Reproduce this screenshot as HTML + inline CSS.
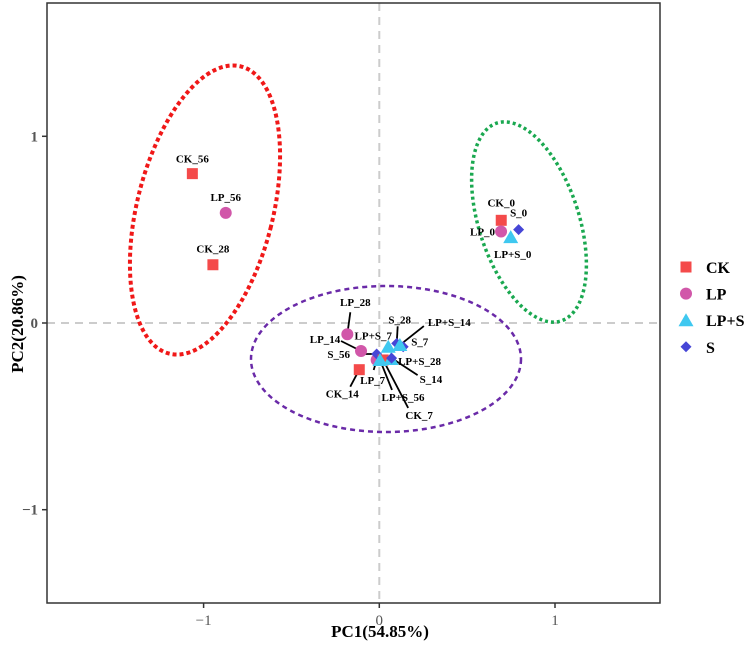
<!DOCTYPE html>
<html><head><meta charset="utf-8"><style>
body{margin:0;background:#fff}
svg{display:block;font-family:"Liberation Serif",serif}
</style></head><body>
<svg id="chart" width="749" height="647"></svg>
<script>
const names=["CK_0","LP_0","S_0","LP+S_0","CK_56","LP_56","CK_28","LP_28","LP_14","CK_14","LP_7","S_56","CK_7","LP+S_56","LP+S_28","LP+S_7","S_28","S_7","LP+S_14","S_14"];
const groups=["CK","LP","S","LP+S","CK","LP","CK","LP","LP","CK","LP","S","CK","LP+S","LP+S","LP+S","S","S","LP+S","S"];
const pc1=[0.694,0.693,0.793,0.748,-1.064,-0.874,-0.947,-0.182,-0.104,-0.114,-0.015,-0.015,0.022,0.004,0.067,0.051,0.099,0.136,0.117,0.07];
const pc2=[0.55,0.49,0.50,0.46,0.80,0.59,0.312,-0.06,-0.15,-0.25,-0.198,-0.166,-0.198,-0.198,-0.193,-0.127,-0.109,-0.127,-0.118,-0.188];
const xTicks=[-1,0,1];
const yTicks=[-1,0,1];
const legendItems=["CK","LP","LP+S","S"];
const lab={"CK_0":[0,-14,"middle"],"LP_0":[-6,4,"end"],"S_0":[0,-13,"middle"],"LP+S_0":[2,21,"middle"],
"CK_56":[0,-11,"middle"],"LP_56":[0,-12,"middle"],"CK_28":[0,-12,"middle"],
"LP_28":[8,-28,"middle",3,-22],"LP_14":[-36,-8,"middle",-20,-10],"S_56":[-38,4,"middle",-20,0],
"LP+S_7":[-15,-7,"middle"],"S_28":[3,-20,"middle",1,-17],"LP+S_14":[28,-19,"start",24,-19],
"S_7":[8,-1,"start"],"LP+S_28":[7,6,"start"],"S_14":[28,25,"start",26,17],
"CK_14":[-17,28,"middle",-9,17],"LP_7":[-4,24,"middle",-3,10],"LP+S_56":[23,41,"middle",12,30],"CK_7":[36,59,"middle",25,48]};
const colors={"CK":"#f44a4a","LP":"#d157a9","LP+S":"#3fc8f0","S":"#4646d6"};
const NS="http://www.w3.org/2000/svg";
const svg=document.getElementById('chart');
const L=47,R=660,T=3,B=603;
const X=v=>379.3+v*175.7, Y=v=>323-v*186.7;
function el(t,a,p){const e=document.createElementNS(NS,t);for(const k in a)e.setAttribute(k,a[k]);(p||svg).appendChild(e);return e;}
let z1=el('line',{x1:L,x2:R,y1:Y(0),y2:Y(0),stroke:'#ccc','stroke-width':2,'stroke-dasharray':'8,6'});


let z2=el('line',{x1:X(0),x2:X(0),y1:T,y2:B,stroke:'#ccc','stroke-width':2,'stroke-dasharray':'8,6'});


let e1=el('ellipse',{cx:205,cy:210,rx:68,ry:148,transform:'rotate(14 205 210)',fill:'none',stroke:'#f01818','stroke-width':4,'stroke-dasharray':'4,3'});


let e2=el('ellipse',{cx:529,cy:222,rx:50,ry:104,transform:'rotate(-18 529 222)',fill:'none',stroke:'#1aa850','stroke-width':3.5,'stroke-dasharray':'3,3'});


let e3=el('ellipse',{cx:386,cy:359,rx:135,ry:73,fill:'none',stroke:'#6a2aa8','stroke-width':2.5,'stroke-dasharray':'5,4'});


let fr=el('rect',{x:L,y:T,width:R-L,height:B-T,fill:'none',stroke:'#333','stroke-width':1.5});


xTicks.forEach(v=>{
  let t=el('line',{x1:X(v),x2:X(v),y1:B,y2:B+5,stroke:'#333','stroke-width':1.5});
  
  
  let tx=el('text',{x:X(v),y:B+22,'text-anchor':'middle','font-size':15,fill:'#555'});
  tx.textContent=v<0?'\u2212'+Math.abs(v):String(v);
  
  
});
yTicks.forEach(v=>{
  let t=el('line',{x1:L-5,x2:L,y1:Y(v),y2:Y(v),stroke:'#333','stroke-width':1.5});
  
  
  let tx=el('text',{x:L-9,y:Y(v)+5,'text-anchor':'end','font-size':15,fill:'#555','font-weight':'bold'});
  tx.textContent=v<0?'\u2212'+Math.abs(v):String(v);
  
  
});
let xt=el('text',{x:380,y:637,'text-anchor':'middle','font-size':17,'font-weight':'bold'});
xt.textContent='PC1(54.85%)';


let yt=el('text',{x:0,y:0,transform:'translate(23,324) rotate(-90)','text-anchor':'middle','font-size':17,'font-weight':'bold'});
yt.textContent='PC2(20.86%)';


function marker(g,cx,cy,parent){
  const c=colors[g];let m;
  if(g==='CK')m=el('rect',{x:cx-5.5,y:cy-5.5,width:11,height:11,fill:c},parent);
  else if(g==='LP')m=el('circle',{cx:cx,cy:cy,r:6,fill:c},parent);
  else if(g==='LP+S')m=el('polygon',{points:`${cx},${cy-7} ${cx+7.5},${cy+6} ${cx-7.5},${cy+6}`,fill:c},parent);
  else m=el('polygon',{points:`${cx},${cy-5.5} ${cx+5.5},${cy} ${cx},${cy+5.5} ${cx-5.5},${cy}`,fill:c},parent);
  return m;
}
names.forEach((n,i)=>{
  const o=lab[n];if(o.length<4)return;
  const px=X(pc1[i]),py=Y(pc2[i]);
  let ln=el('line',{x1:px,y1:py,x2:px+o[3],y2:py+o[4],stroke:'#000','stroke-width':1.8});
  
  
});
names.forEach((n,i)=>{
  const px=X(pc1[i]),py=Y(pc2[i]);
  const m=marker(groups[i],px,py);
  
  
});
names.forEach((n,i)=>{
  const o=lab[n];const px=X(pc1[i]),py=Y(pc2[i]);
  let t=el('text',{x:px+o[0],y:py+o[1],'text-anchor':o[2],'font-size':11,'font-weight':'bold'});
  t.textContent=n;
  
  
});
legendItems.forEach((g,i)=>{
  const cy=267+i*26.6;
  const m=marker(g,686,cy);
  
  
  let t=el('text',{x:706,y:cy+6,'font-size':16,'font-weight':'bold'});
  t.textContent=g;
  
  
});
</script>
</body></html>
